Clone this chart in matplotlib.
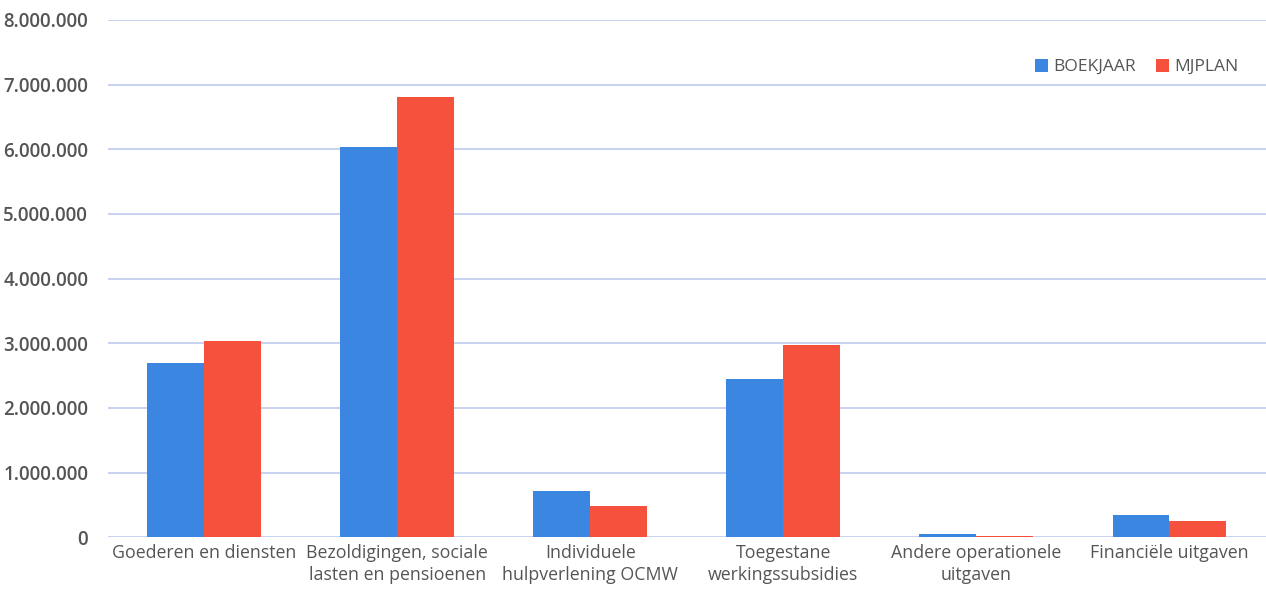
import numpy as np
import matplotlib.pyplot as plt
from matplotlib.ticker import FuncFormatter

plt.rcParams['font.family'] = ['Open Sans', 'DejaVu Sans']

# ── data ──
categories = ['Goederen en diensten', 'Bezoldigingen, sociale\nlasten en pensioenen',
              'Individuele\nhulpverlening OCMW', 'Toegestane\nwerkingssubsidies',
              'Andere operationele\nuitgaven', 'Financiële uitgaven']
boekjaar = [2690000, 6030000, 720000, 2450000, 50000, 350000]
mjplan = [3040000, 6810000, 490000, 2980000, 25000, 250000]
yticks = np.arange(0, 8000001, 1000000)

blue = '#3A86E0'
red = '#F5513D'
text_col = '#555555'

fig = plt.figure(figsize=(12.66, 6.03), dpi=100)
ax = fig.add_axes([0.085, 0.109, 0.915, 0.858])

x = np.arange(len(categories))
w = 0.295
ax.bar(x - w / 2, boekjaar, w, color=blue, label='BOEKJAAR', zorder=3)
ax.bar(x + w / 2, mjplan, w, color=red, label='MJPLAN', zorder=3)

ax.set_xlim(-0.5, len(categories) - 0.5)
ax.set_ylim(0, 8000000)
ax.set_yticks(yticks)
ax.yaxis.set_major_formatter(FuncFormatter(lambda v, p: f'{int(v):,}'.replace(',', '.')))
ax.set_xticks(x)
ax.set_xticklabels(categories, fontsize=12.8, color=text_col, linespacing=1.25)
ax.tick_params(axis='y', labelsize=13.5, labelcolor=text_col, length=0, pad=14)
for t in ax.get_yticklabels():
    t.set_fontweight('semibold')
ax.tick_params(axis='x', length=0, pad=5)
ax.grid(axis='y', color='#BFCBEE', linewidth=1.2, zorder=0)
ax.set_axisbelow(True)
for s in ax.spines.values():
    s.set_visible(False)

leg = ax.legend(loc='upper right', bbox_to_anchor=(0.99, 0.955), ncol=2, frameon=False,
                fontsize=12.5, handlelength=0.75, handleheight=0.75, handletextpad=0.3,
                columnspacing=1.2)
for t in leg.get_texts():
    t.set_color(text_col)

plt.savefig('out.png', dpi=100, facecolor='white')
plt.close()
